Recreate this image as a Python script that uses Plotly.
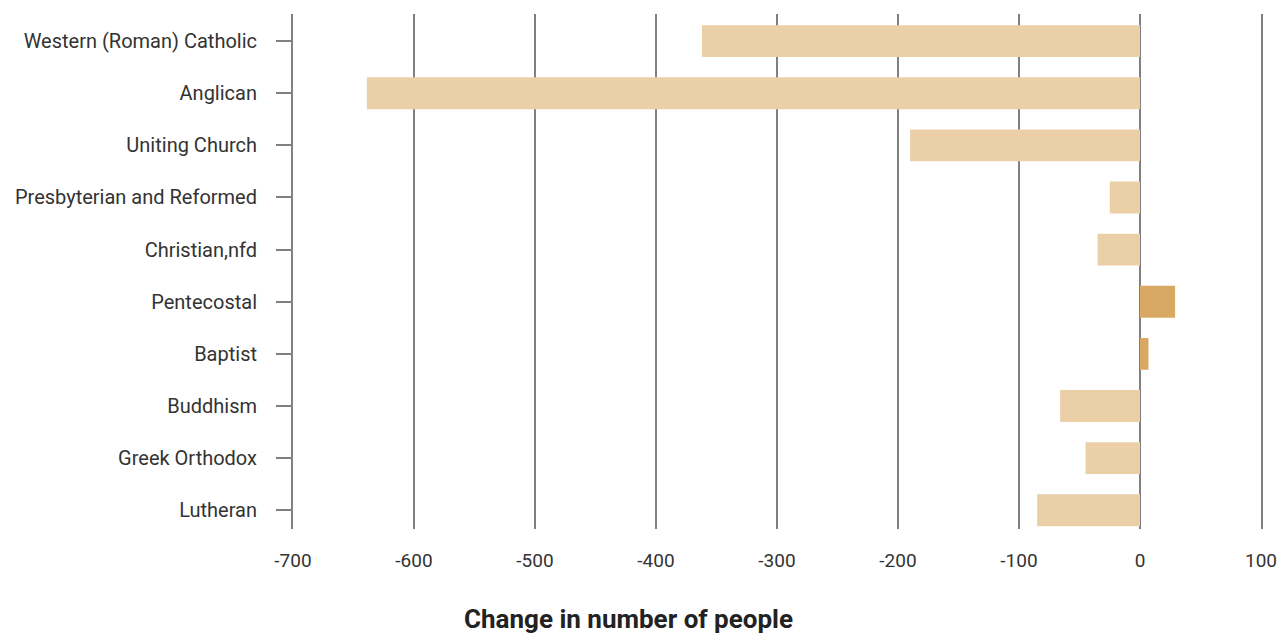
import plotly.graph_objects as go

categories = ["Western (Roman) Catholic", "Anglican", "Uniting Church", "Presbyterian and Reformed",
              "Christian,nfd", "Pentecostal", "Baptist", "Buddhism", "Greek Orthodox", "Lutheran"]
values = [-362, -639, -190, -25, -35, 29, 7, -66, -45, -85]
tick_vals = [-700, -600, -500, -400, -300, -200, -100, 0, 100]
tick_text = [str(v) for v in tick_vals]

light = "#EBCFA7"
dark = "#D9A964"
colors = [dark if v > 0 else light for v in values]

fig = go.Figure(go.Bar(
    y=categories, x=values, orientation="h",
    marker=dict(color=colors, line=dict(width=0)),
    width=0.61,
))

fig.update_layout(
    width=1283, height=635,
    margin=dict(l=293, r=22, t=14, b=106, autoexpand=False),
    paper_bgcolor="white", plot_bgcolor="white",
    font=dict(family="Roboto", size=20, color="#333333"),
    showlegend=False,
    xaxis=dict(
        range=[-700, 100], tickvals=tick_vals, ticktext=tick_text, automargin=False,
        showgrid=True, gridcolor="#808080", gridwidth=2,
        zeroline=True, zerolinecolor="#808080", zerolinewidth=2,
        showline=False, ticks="", ticklabelstandoff=18,
        tickfont=dict(size=19, color="#333333"),
    ),
    yaxis=dict(
        range=[9.36, -0.52], type="category", automargin=False,
        categoryorder="array", categoryarray=categories,
        showgrid=False, zeroline=False,
        showline=True, linecolor="#808080", linewidth=2, mirror=True,
        ticks="outside", ticklen=15, tickwidth=2, tickcolor="#808080",
        ticklabelstandoff=15,
        tickfont=dict(size=20, color="#333333"),
    ),
    annotations=[dict(
        text="<b>Change in number of people</b>", xref="paper", yref="paper",
        x=(628 - 293) / 968, y=-(619 - 529) / 515, xanchor="center", yanchor="middle",
        showarrow=False, font=dict(family="Roboto", size=26, color="#222222"),
    )],
)

fig.write_html("out.html", config={"displayModeBar": False},
               post_script="document.body.style.margin='0';document.body.style.overflow='hidden';")
